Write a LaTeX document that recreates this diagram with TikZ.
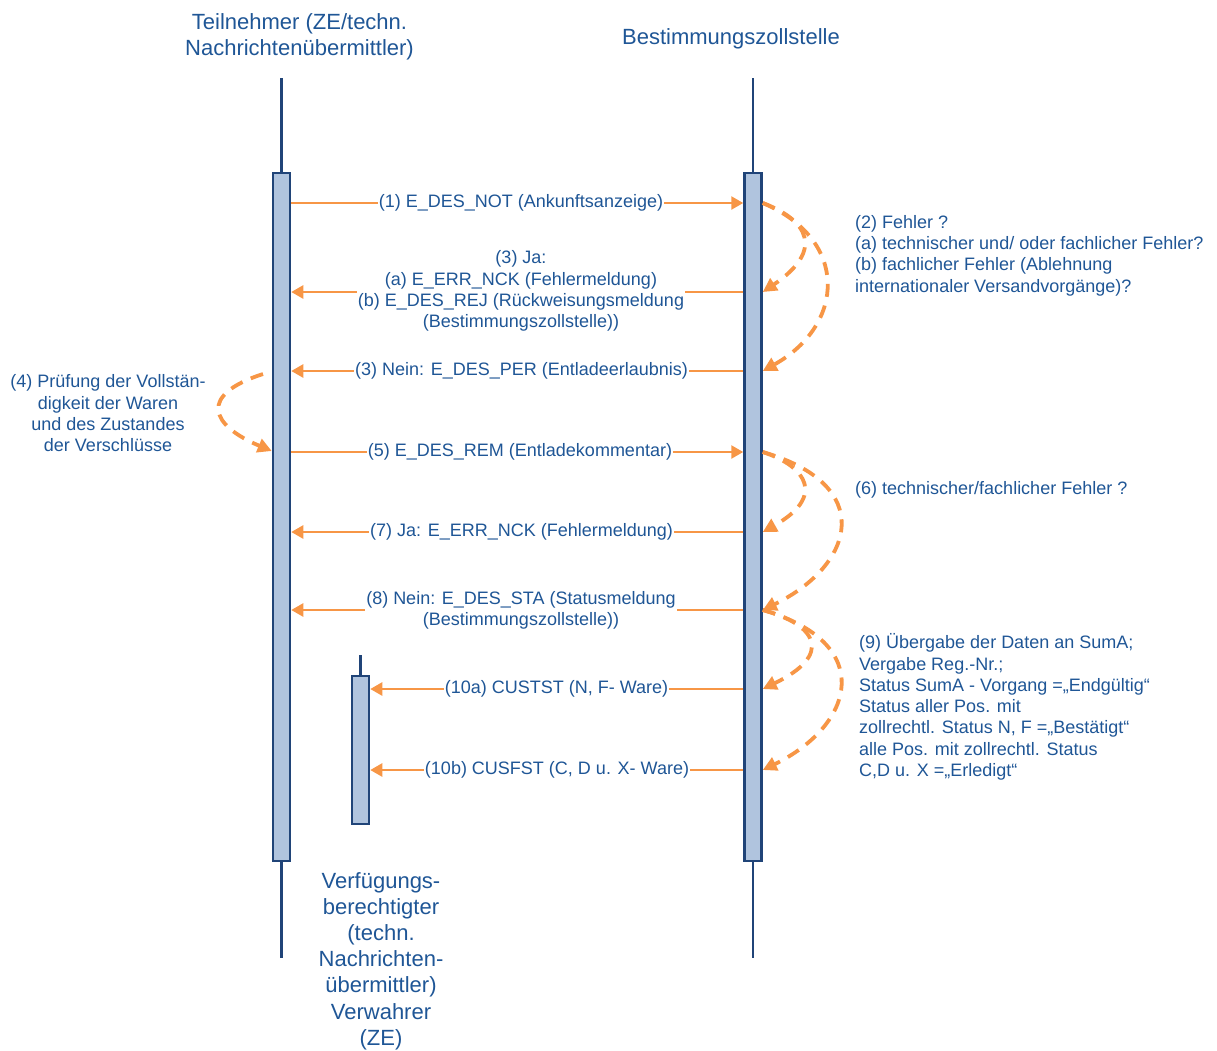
\documentclass[tikz,border=0pt]{standalone}
\usepackage{fontspec}
\setmainfont{Liberation Sans}
\usetikzlibrary{arrows.meta}
\definecolor{txt}{RGB}{31,86,150}
\definecolor{barfill}{RGB}{176,196,222}
\definecolor{bardraw}{RGB}{32,68,120}
\definecolor{org}{RGB}{247,150,70}
\begin{document}
\begin{tikzpicture}[x=1pt,y=-1pt,
  lifebar/.style={draw=bardraw, line width=2.5pt, fill=barfill, minimum width=17pt, inner sep=0pt},
  lifeline/.style={draw=bardraw, line width=2.5pt},
  msg/.style={draw=org, line width=2.5pt, -{Triangle[length=12pt,width=13pt]}},
  loopy/.style={draw=org, line width=3.8pt, dash pattern=on 13pt off 9pt, -{Triangle[length=14pt,width=14pt]}},
  lbl/.style={text=txt, font=\fontsize{18}{21.3}\selectfont, fill=white, inner sep=1pt, align=center},
  note/.style={text=txt, font=\fontsize{18}{21.3}\selectfont, inner sep=0pt, align=left, anchor=west},
  ttl/.style={text=txt, font=\fontsize{22}{26.2}\selectfont, inner sep=0pt, align=center}]
\useasboundingbox (0,0) rectangle (1217,1050);
% titles
\node[ttl] (tL) at (299.5,37) {Teilnehmer (ZE/techn.\\Nachrichtenübermittler)};
\node[ttl] (tR) at (731,39) {Bestimmungszollstelle};
\node[ttl] (tS) at (381,961) {Verfügungs-\\berechtigter\\(techn.\\Nachrichten-\\übermittler)\\Verwahrer\\(ZE)};
% lifelines
\node[lifebar, minimum height=688pt] (L) at (281.5,517) {};
\node[lifebar, minimum height=688pt] (R) at (753,517) {};
\node[lifebar, minimum height=148pt] (S) at (360.5,750) {};
\coordinate (Ltop) at (281.5,78); \coordinate (Lbot) at (281.5,958);
\coordinate (Rtop) at (753,78); \coordinate (Rbot) at (753,958);
\coordinate (Stop) at (360.5,655);
\draw[lifeline] (Ltop) -- (L.north);
\draw[lifeline] (L.south) -- (Lbot);
\draw[lifeline] (Rtop) -- (R.north);
\draw[lifeline] (R.south) -- (Rbot);
\draw[lifeline] (Stop) -- (S.north);
% message rows
\coordinate (m1) at (0,203);
\coordinate (m2) at (0,292);
\coordinate (m3) at (0,371);
\coordinate (m4) at (0,452);
\coordinate (m5) at (0,532);
\coordinate (m6) at (0,610);
\coordinate (m7) at (0,689);
\coordinate (m8) at (0,770);
\draw[msg] (L.east |- m1) -- (R.west |- m1);
\draw[msg] (R.west |- m2) -- (L.east |- m2);
\draw[msg] (R.west |- m3) -- (L.east |- m3);
\draw[msg] (L.east |- m4) -- (R.west |- m4);
\draw[msg] (R.west |- m5) -- (L.east |- m5);
\draw[msg] (R.west |- m6) -- (L.east |- m6);
\draw[msg] (R.west |- m7) -- (S.east |- m7);
\draw[msg] (R.west |- m8) -- (S.east |- m8);
% labels
\node[lbl] (l1) at (521,203) {(1) E\_DES\_NOT (Ankunftsanzeige)};
\node[lbl] (l2) at (521,291) {(3) Ja:\\(a) E\_ERR\_NCK (Fehlermeldung)\\(b) E\_DES\_REJ (Rückweisungsmeldung\\(Bestimmungszollstelle))};
\node[lbl] (l3) at (521.5,371) {(3) Nein: E\_DES\_PER (Entladeerlaubnis)};
\node[lbl] (l4) at (520,452) {(5) E\_DES\_REM (Entladekommentar)};
\node[lbl] (l5) at (521.5,532) {(7) Ja: E\_ERR\_NCK (Fehlermeldung)};
\node[lbl] (l6) at (521,610.5) {(8) Nein: E\_DES\_STA (Statusmeldung\\(Bestimmungszollstelle))};
\node[lbl] (l7) at (556.5,689) {(10a) CUSTST (N, F- Ware)};
\node[lbl] (l8) at (557,770) {(10b) CUSFST (C, D u. X- Ware)};
% self loops at the office
\draw[loopy] (R.east |- m1) .. controls (808,220) and (825,250) .. (R.east |- m2);
\draw[loopy] (R.east |- m1) .. controls (850,240) and (845,325) .. (R.east |- m3);
\draw[loopy] (R.east |- m4) .. controls (808,467) and (825,497) .. (R.east |- m5);
\draw[loopy] (R.east |- m4) .. controls (877,485) and (855,565) .. (R.east |- m6);
\draw[loopy] (R.east |- m6) .. controls (818,625) and (833,655) .. (R.east |- m7);
\draw[loopy] (R.east |- m6) .. controls (877,643) and (855,725) .. (R.east |- m8);
% loop at the participant
\coordinate (c4) at (263,374);
\draw[loopy] (c4) .. controls (198,395) and (210,425) .. (L.west |- 0,451);
% notes
\node[note] (n2) at (855,255.5) {(2) Fehler ?\\(a) technischer und/ oder fachlicher Fehler?\\(b) fachlicher Fehler (Ablehnung\\internationaler Versandvorgänge)?};
\node[note] (n6) at (855,490) {(6) technischer/fachlicher Fehler ?};
\node[note] (n9) at (859,707) {(9) Übergabe der Daten an SumA;\\Vergabe Reg.-Nr.;\\Status SumA - Vorgang =„Endgültig“\\Status aller Pos. mit\\zollrechtl. Status N, F =„Bestätigt“\\alle Pos. mit zollrechtl. Status\\C,D u. X =„Erledigt“};
\node[lbl, fill=none, inner sep=0pt] (n4) at (108,413.5) {(4) Prüfung der Vollstän-\\digkeit der Waren\\und des Zustandes\\der Verschlüsse};
\end{tikzpicture}
\end{document}
